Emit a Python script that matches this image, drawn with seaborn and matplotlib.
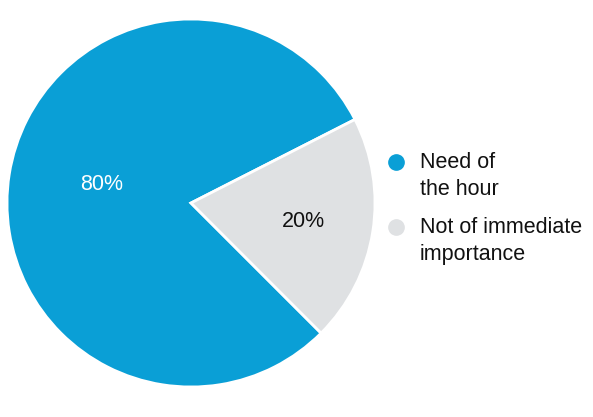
import numpy as np
import matplotlib
matplotlib.use('Agg')
import matplotlib.pyplot as plt
from matplotlib.lines import Line2D
import seaborn as sns

sns.set_theme(style='white')
plt.rcParams['font.family'] = ['Liberation Sans', 'DejaVu Sans']

# Chart data
labels = ['Need of\nthe hour', 'Not of immediate\nimportance']
shares = [80, 20]
colors = ['#0A9FD6', '#DFE1E3']
pct_colors = ['white', '#111111']
pct_dist = [0.50, 0.61]
pct_lift = [0.02, -0.005]

W, H = 593, 417
fig = plt.figure(figsize=(W / 100, H / 100), dpi=100)
fig.patch.set_facecolor('white')

cx, cy, r = 191, 203, 184
ax = fig.add_axes([(cx - r) / W, (H - cy - r) / H, 2 * r / W, 2 * r / H])

wedges, texts = ax.pie(
    shares, colors=colors, startangle=27, counterclock=True, radius=1,
    wedgeprops=dict(edgecolor='white', linewidth=2),
)
ax.set_xlim(-1, 1)
ax.set_ylim(-1, 1)
ax.set_aspect('equal')
ax.axis('off')

# percentage labels placed on the wedge bisector
for w, val, c, d, lift in zip(wedges, shares, pct_colors, pct_dist, pct_lift):
    mid = np.deg2rad((w.theta1 + w.theta2) / 2)
    ax.text(d * np.cos(mid) + 0.01, d * np.sin(mid) + lift, '{}%'.format(val),
            ha='center', va='center', color=c, fontsize=15.5)

# legend drawn by hand so the dot sits on the first text line
legend_rows = [162, 227]
for lab, col, y in zip(labels, colors, legend_rows):
    fig.add_artist(Line2D([396 / W], [1 - y / H], marker='o', markersize=11,
                          markerfacecolor=col, markeredgecolor=col,
                          linestyle='none', transform=fig.transFigure))
    # baseline of the last line sits one line pitch below the first
    fig.text(420 / W, 1 - (y + 33) / H, lab, ha='left', va='baseline',
             fontsize=15.5, color='#111111', linespacing=1.38)

fig.savefig('out.png', dpi=100, facecolor='white')
